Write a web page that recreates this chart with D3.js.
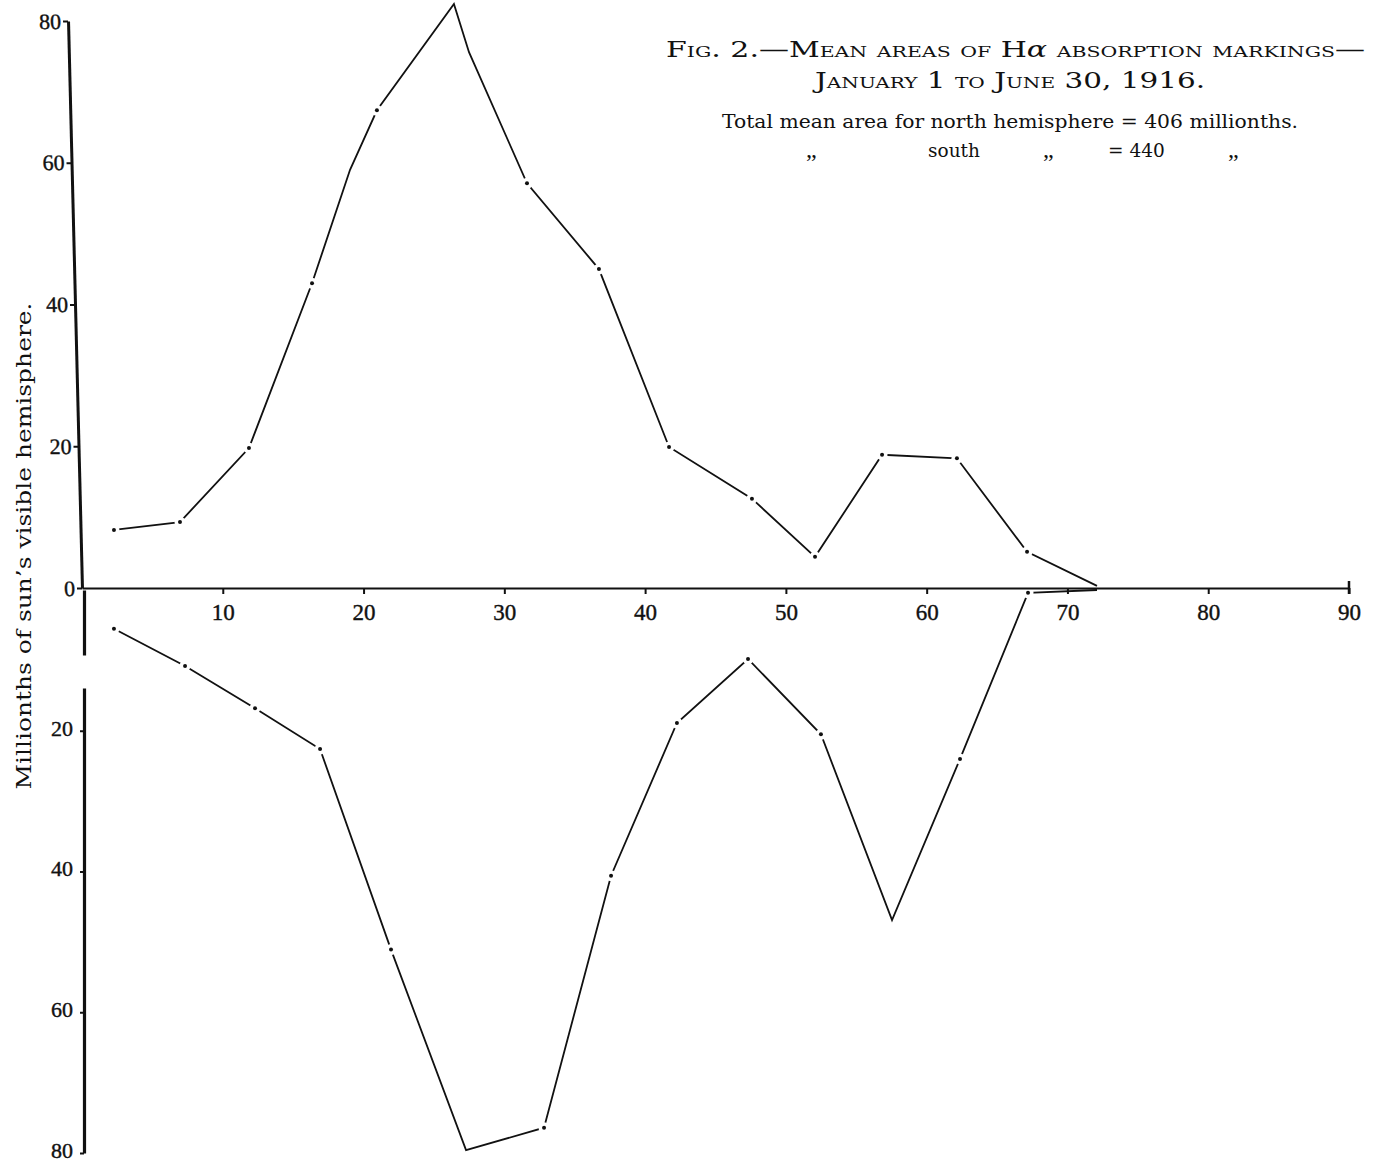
<!DOCTYPE html>
<html><head><meta charset="utf-8">
<script src="https://cdn.jsdelivr.net/npm/d3@7"></script>
<style>
body{margin:0;background:#fff}
svg{display:block}
text{fill:#111}
.serifA{font-family:"DejaVu Serif","Liberation Serif",serif}
.serifB{font-family:"Liberation Serif","DejaVu Serif",serif}
</style>
</head><body>
<svg id="c" width="1383" height="1164"></svg>
<script>
// ---- data (latitude in degrees, mean area in millionths) ----
const northLat  = [2.27, 6.96, 11.86, 16.34, 19.04, 20.95, 26.42, 27.49, 31.61, 36.72, 41.70, 47.59, 52.07, 56.83, 62.15, 67.13, 72.10];
const northArea = [8.2, 9.3, 19.75, 43.0, 59.0, 67.4, 82.4, 75.6, 57.1, 45.0, 19.9, 12.6, 4.4, 18.8, 18.3, 5.1, 0.3];
const northDot  = [1, 1, 1, 1, 0, 1, 0, 0, 1, 1, 1, 1, 1, 1, 1, 1, 0];
const southLat  = [2.27, 7.32, 12.29, 16.91, 21.95, 27.28, 32.82, 37.58, 42.26, 47.31, 52.49, 57.54, 62.37, 67.20, 72.10];
const southArea = [5.5, 10.8, 16.8, 22.6, 51.1, 79.6, 76.4, 40.6, 18.9, 9.8, 20.5, 46.9, 24.0, 0.4, 0];
const southDot  = [1, 1, 1, 1, 1, 0, 1, 1, 1, 1, 1, 0, 1, 1, 0];
const xTicks = [10, 20, 30, 40, 50, 60, 70, 80, 90];
const yTicksNorth = [0, 20, 40, 60, 80];
const yTicksSouth = [20, 40, 60, 80];
const titleLine1 = "Fig. 2.—Mean areas of H";
const titleAlpha = "α";
const titleLine1b = " absorption markings—";
const titleLine2 = "January 1 to June 30, 1916.";
const noteLine1 = "Total mean area for north hemisphere = 406 millionths.";
const noteLine2 = ["„", "south", "„", "= 440", "„"];
const yLabel = "Millionths of sun’s visible hemisphere.";

const svg = d3.select('#c');
const x  = d3.scaleLinear().domain([0, 90]).range([82, 1349]);
const yN = d3.scaleLinear().domain([0, 80]).range([588, 21]);
const yS = d3.scaleLinear().domain([0, 80]).range([590, 1153]);

function drawSeries(lat, area, dots, y) {
  const pts = lat.map((d, i) => ({lat: d, v: area[i], dot: dots[i]}));
  const line = d3.line().x(d => x(d.lat)).y(d => y(d.v));
  svg.append('path').datum(pts).attr('d', line)
    .attr('fill', 'none').attr('stroke', '#111').attr('stroke-width', 1.8)
    .attr('stroke-linejoin', 'miter').attr('stroke-miterlimit', 10);
  const marked = pts.filter(d => d.dot);
  svg.append('g').selectAll('circle').data(marked).join('circle')
    .attr('cx', d => x(d.lat)).attr('cy', d => y(d.v)).attr('r', 5.5).attr('fill', '#fff');
  svg.append('g').selectAll('circle').data(marked).join('circle')
    .attr('cx', d => x(d.lat)).attr('cy', d => y(d.v)).attr('r', 2).attr('fill', '#111');
}
drawSeries(northLat, northArea, northDot, yN);
drawSeries(southLat, southArea, southDot, yS);

// ---- axes ----
function styleAxis(g, fs, dw) {
  g.attr('font-family', null).attr('font-size', null);
  g.selectAll('.domain').attr('stroke', '#111').attr('stroke-width', dw);
  g.selectAll('.tick line').attr('stroke', '#111').attr('stroke-width', 2);
  g.selectAll('.tick text').attr('class', 'serifB').style('font-size', fs + 'px').attr('fill', '#111')
    .attr('stroke', '#111').attr('stroke-width', 0.4);
}

// upper y axis (slightly leaning, as printed)
const gN = svg.append('g').attr('transform', 'translate(67.5,0) skewX(1.41)')
  .call(d3.axisLeft(yN).tickValues(yTicksNorth).tickSize(5).tickSizeOuter(0).tickPadding(2).tickFormat(d3.format('d')));
styleAxis(gN, 22, 3);

// lower y axis
const gS = svg.append('g').attr('transform', 'translate(84,0)')
  .call(d3.axisLeft(yS).tickValues(yTicksSouth).tickSize(4).tickSizeOuter(0).tickPadding(7).tickFormat(d3.format('d')));
styleAxis(gS, 22, 3.2);
gS.selectAll('.tick text').attr('dy', '0.2em');
gS.select('.domain').attr('stroke-dasharray', '65 33 2000');

// x axis
const gX = svg.append('g').attr('transform', 'translate(0,588)')
  .call(d3.axisBottom(x).tickValues(xTicks).tickSize(6).tickSizeOuter(0).tickPadding(10).tickFormat(d3.format('d')));
styleAxis(gX, 23, 2.2);
gX.append('line').attr('x1', x(90)).attr('x2', x(90)).attr('y1', -7).attr('y2', 6)
  .attr('stroke', '#111').attr('stroke-width', 2.5);

// ---- texts ----
const t1 = svg.append('text').attr('class', 'serifA').attr('x', 666).attr('y', 57).style('font-size', '22px')
  .style('font-variant', 'small-caps').attr('textLength', 699).attr('lengthAdjust', 'spacingAndGlyphs');
t1.append('tspan').text(titleLine1);
t1.append('tspan').style('font-style', 'italic').style('font-variant', 'normal').text(titleAlpha);
t1.append('tspan').text(titleLine1b);

svg.append('text').attr('class', 'serifA').attr('x', 815).attr('y', 88).style('font-size', '22px')
  .style('font-variant', 'small-caps').attr('textLength', 390).attr('lengthAdjust', 'spacingAndGlyphs')
  .text(titleLine2);

svg.append('text').attr('class', 'serifA').attr('x', 722).attr('y', 128).style('font-size', '18.5px')
  .attr('textLength', 576).attr('lengthAdjust', 'spacingAndGlyphs').text(noteLine1);

const noteX = [806, 928, 1043, 1108, 1228];
svg.append('g').selectAll('text').data(noteLine2).join('text')
  .attr('class', (d, i) => i % 2 === 0 ? 'serifB' : 'serifA')
  .attr('x', (d, i) => noteX[i]).attr('y', 157)
  .style('font-size', (d, i) => (i % 2 === 0 ? 24 : 18.5) + 'px')
  .text(d => d);

svg.append('text').attr('class', 'serifA').attr('transform', 'translate(31,546) rotate(-90)')
  .attr('text-anchor', 'middle').style('font-size', '19.5px')
  .attr('textLength', 487).attr('lengthAdjust', 'spacingAndGlyphs').text(yLabel);
</script>
</body></html>
